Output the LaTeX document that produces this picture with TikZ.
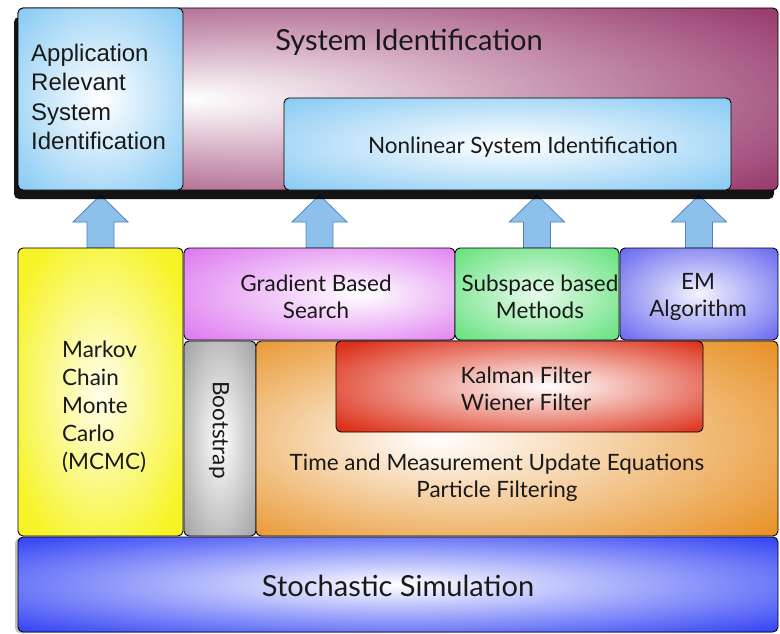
\documentclass[tikz,border=0pt]{standalone}
\usepackage{fontspec}
\setmainfont{Lato}
\newfontfamily\arialfont{Liberation Sans}
\usetikzlibrary{calc,shadows,backgrounds}

\definecolor{cpurple}{RGB}{140,36,92}
\definecolor{cblue}{RGB}{140,204,244}
\definecolor{cyellow}{RGB}{246,244,40}
\definecolor{cmagenta}{RGB}{222,122,240}
\definecolor{cgreen}{RGB}{104,226,128}
\definecolor{cviolet}{RGB}{108,108,240}
\definecolor{cgrey}{RGB}{165,165,165}
\definecolor{corange}{RGB}{232,146,40}
\definecolor{cred}{RGB}{220,48,24}
\definecolor{cstoch}{RGB}{56,72,245}
\definecolor{arrowfill}{RGB}{142,192,236}
\definecolor{arrowdraw}{RGB}{80,130,190}

\pgfdeclareradialshading{shpurple}{\pgfpoint{-14bp}{0bp}}{color(0bp)=(white); color(18bp)=(cpurple!45!white); color(42bp)=(cpurple); color(50bp)=(cpurple)}
\pgfdeclareradialshading{shblue}{\pgfpoint{0bp}{0bp}}{color(0bp)=(white); color(34bp)=(cblue); color(50bp)=(cblue)}
\pgfdeclareradialshading{shyellow}{\pgfpoint{0bp}{0bp}}{color(0bp)=(cyellow!8!white); color(30bp)=(cyellow); color(50bp)=(cyellow)}
\pgfdeclareradialshading{shmagenta}{\pgfpoint{8bp}{0bp}}{color(0bp)=(white); color(36bp)=(cmagenta); color(50bp)=(cmagenta)}
\pgfdeclareradialshading{shgreen}{\pgfpoint{0bp}{0bp}}{color(0bp)=(cgreen!15!white); color(34bp)=(cgreen); color(50bp)=(cgreen)}
\pgfdeclareradialshading{shviolet}{\pgfpoint{0bp}{0bp}}{color(0bp)=(cviolet!8!white); color(34bp)=(cviolet); color(50bp)=(cviolet)}
\pgfdeclareradialshading{shgrey}{\pgfpoint{0bp}{0bp}}{color(0bp)=(white); color(34bp)=(cgrey); color(50bp)=(cgrey)}
\pgfdeclareradialshading{shorange}{\pgfpoint{-8bp}{0bp}}{color(0bp)=(white); color(36bp)=(corange); color(50bp)=(corange)}
\pgfdeclareradialshading{shred}{\pgfpoint{4bp}{0bp}}{color(0bp)=(white); color(34bp)=(cred); color(50bp)=(cred)}
\pgfdeclareradialshading{shstoch}{\pgfpoint{0bp}{0bp}}{color(0bp)=(white); color(34bp)=(cstoch); color(50bp)=(cstoch)}

\newcommand\uparr[2]{%
  \draw[uparrow] let \p1=(#1.north), \p2=(#2.south) in
    (\x1-13.5pt,\y1) -- (\x1-13.5pt,\y2-32pt) -- (\x1-27.5pt,\y2-32pt) --
    (\x1,\y2-5pt) -- (\x1+27.5pt,\y2-32pt) -- (\x1+13.5pt,\y2-32pt) --
    (\x1+13.5pt,\y1) -- cycle;}

\begin{document}
\begin{tikzpicture}[x=1pt,y=-1pt,
  box/.style={draw=black, line width=0.9pt, rounded corners=5pt, inner sep=0pt, outer sep=0pt},
  lbl/.style={inner sep=0pt, align=center, font=\fontsize{22.5}{27.5}\selectfont, text=black!90},
  big/.style={inner sep=0pt, font=\fontsize{29}{34}\selectfont, text=black!90},
  uparrow/.style={fill=arrowfill, draw=arrowdraw, line width=0.8pt, line join=miter}]
\useasboundingbox (0,0) rectangle (780,634);

% top layer
\node[box, shading=shpurple, minimum width=760pt, minimum height=182pt,
  drop shadow={shadow xshift=-4pt, shadow yshift=-9pt, opacity=0.92, fill=black}] (sysid) at (398,99) {};
\node[box, shading=shblue, minimum width=165pt, minimum height=182pt] (app) at (100.5,99) {};
\node[box, shading=shblue, minimum width=447pt, minimum height=92pt] (nonlin) at (507.5,144) {};

% middle layer
\node[box, shading=shyellow, minimum width=165pt, minimum height=288pt] (mcmc) at (100.5,392) {};
\node[box, shading=shmagenta, minimum width=271pt, minimum height=92pt] (grad) at (319.5,294) {};
\node[box, shading=shgreen, minimum width=164pt, minimum height=92pt] (subsp) at (537,294) {};
\node[box, shading=shviolet, minimum width=158pt, minimum height=92pt] (em) at (699,294) {};
\node[box, shading=shgrey, minimum width=72pt, minimum height=195pt] (boot) at (220,438.5) {};
\node[box, shading=shorange, minimum width=522pt, minimum height=195pt] (filt) at (517,438.5) {};
\node[box, shading=shred, minimum width=367pt, minimum height=91pt] (kal) at (519.5,386.5) {};

% bottom layer
\node[box, shading=shstoch, minimum width=760pt, minimum height=95pt,
  drop shadow={shadow xshift=-3pt, shadow yshift=-1pt, opacity=0.25, fill=black}] (stoch) at (398,584.5) {};

% texts
\node[big] (tsys) at (409,42) {System Identification};
\node[inner sep=0pt, anchor=west, align=left, font=\arialfont\fontsize{24}{29.5}\selectfont, text=black!90] (tapp) at (31,97)
  {Application\\Relevant\\System\\Identification};
\node[lbl] (tnl) at (523,147) {Nonlinear System Identification};
\node[lbl] (tgrad) at (316,297) {Gradient Based\\Search};
\node[lbl] (tsub) at (540,297) {Subspace based\\Methods};
\node[lbl] (tem) at (698,297) {EM\\Algorithm};
\node[lbl, anchor=west, align=left, font=\fontsize{22.5}{28}\selectfont] (tmc) at (62,407) {Markov\\Chain\\Monte\\Carlo\\(MCMC)};
\node[lbl, rotate=-90] (tboot) at (219,430) {Bootstrap};
\node[lbl] (tkal) at (526,389) {Kalman Filter\\Wiener Filter};
\node[lbl] (tfilt) at (497,478) {Time and Measurement Update Equations\\Particle Filtering};
\node[big] (tstoch) at (398,586) {Stochastic Simulation};

% arrows
\begin{scope}[on background layer]
\uparr{mcmc}{app}
\uparr{grad}{nonlin}
\uparr{subsp}{nonlin}
\uparr{em}{sysid}
\end{scope}
\end{tikzpicture}
\end{document}
